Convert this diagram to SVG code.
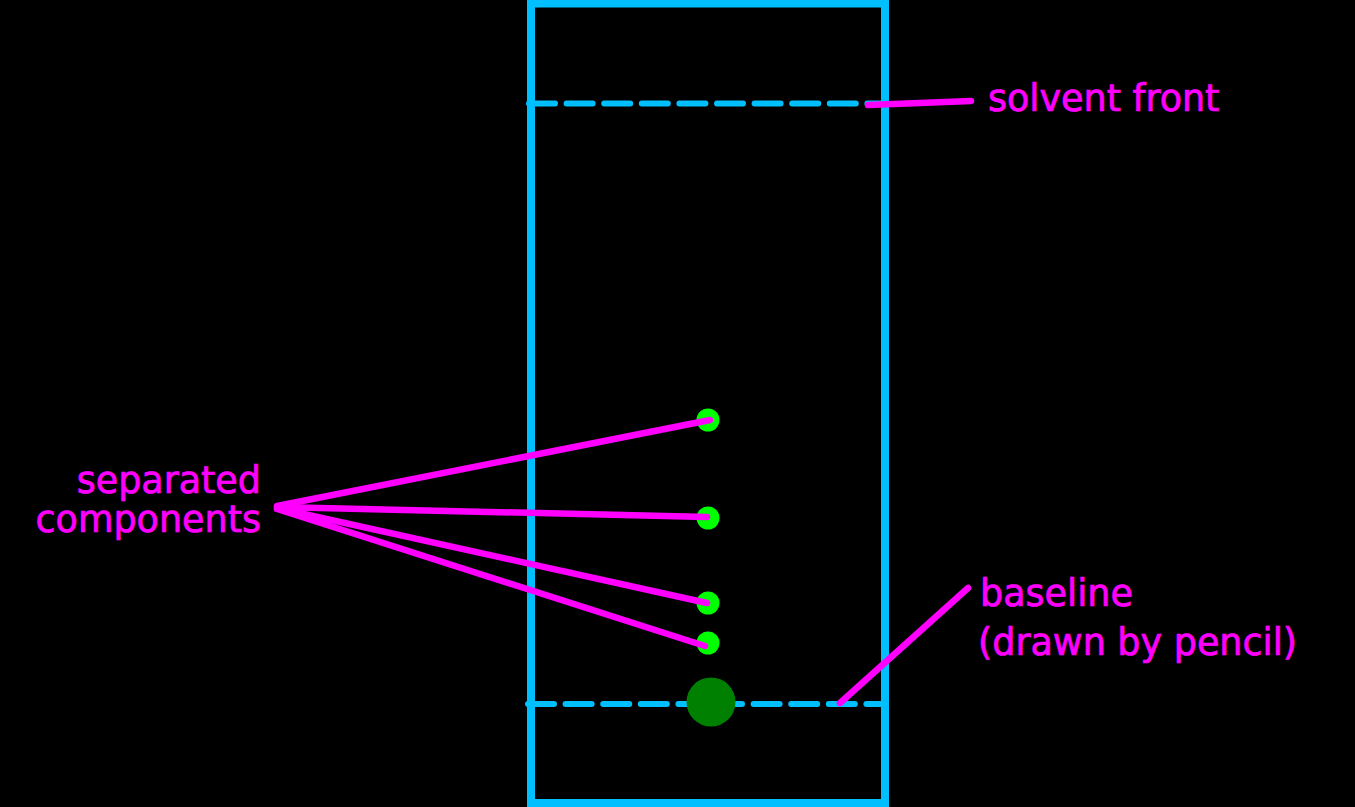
<svg xmlns="http://www.w3.org/2000/svg" width="1355" height="807" viewBox="0 0 1355 807">
<style>
.plate{fill:none;stroke:#00bfff;stroke-width:8}
.dash{stroke:#00bfff;stroke-width:6;stroke-dasharray:26 11.6;stroke-linecap:round}
.ptr{stroke:#ff00ff;stroke-width:6.5;stroke-linecap:round;fill:none}
.lbl{font-family:"DejaVu Sans",sans-serif;font-size:36.5px;fill:#ff00ff;stroke:#ff00ff;stroke-width:0.7}
.spot{fill:#00ff00}
</style>
<rect width="1355" height="807" fill="#000"/>
<g id="plate">
<rect class="plate" x="531" y="3.5" width="354" height="799.5"/>
</g>
<g id="solvent-front-line">
<line class="dash" x1="529" y1="103.5" x2="882" y2="103.5"/>
</g>
<g id="baseline-line">
<line class="dash" x1="528" y1="704" x2="882" y2="704"/>
</g>
<g id="sample-spot">
<circle cx="711" cy="702" r="24.5" fill="#008000"/>
</g>
<g id="spot1"><circle class="spot" cx="708" cy="420" r="11.5"/></g>
<g id="spot2"><circle class="spot" cx="708" cy="518" r="11.5"/></g>
<g id="spot3"><circle class="spot" cx="708" cy="603" r="11.5"/></g>
<g id="spot4"><circle class="spot" cx="708" cy="643" r="11.5"/></g>
<g id="connectors">
<line class="ptr" x1="868" y1="105" x2="971" y2="101"/>
<line class="ptr" x1="840" y1="703" x2="968" y2="588"/>
<line class="ptr" x1="277" y1="506" x2="710" y2="420"/>
<line class="ptr" x1="277" y1="507" x2="707" y2="517"/>
<line class="ptr" x1="277" y1="508" x2="707" y2="603"/>
<line class="ptr" x1="277" y1="509" x2="705" y2="646"/>
</g>
<g id="label-solvent-front">
<text class="lbl" x="988" y="111">solvent front</text>
</g>
<g id="label-separated">
<text class="lbl" x="261" y="493" text-anchor="end">separated</text>
<text class="lbl" x="261" y="532" text-anchor="end">components</text>
</g>
<g id="label-baseline">
<text class="lbl" x="980" y="606">baseline</text>
<text class="lbl" x="978" y="655">(drawn by pencil)</text>
</g>
</svg>
